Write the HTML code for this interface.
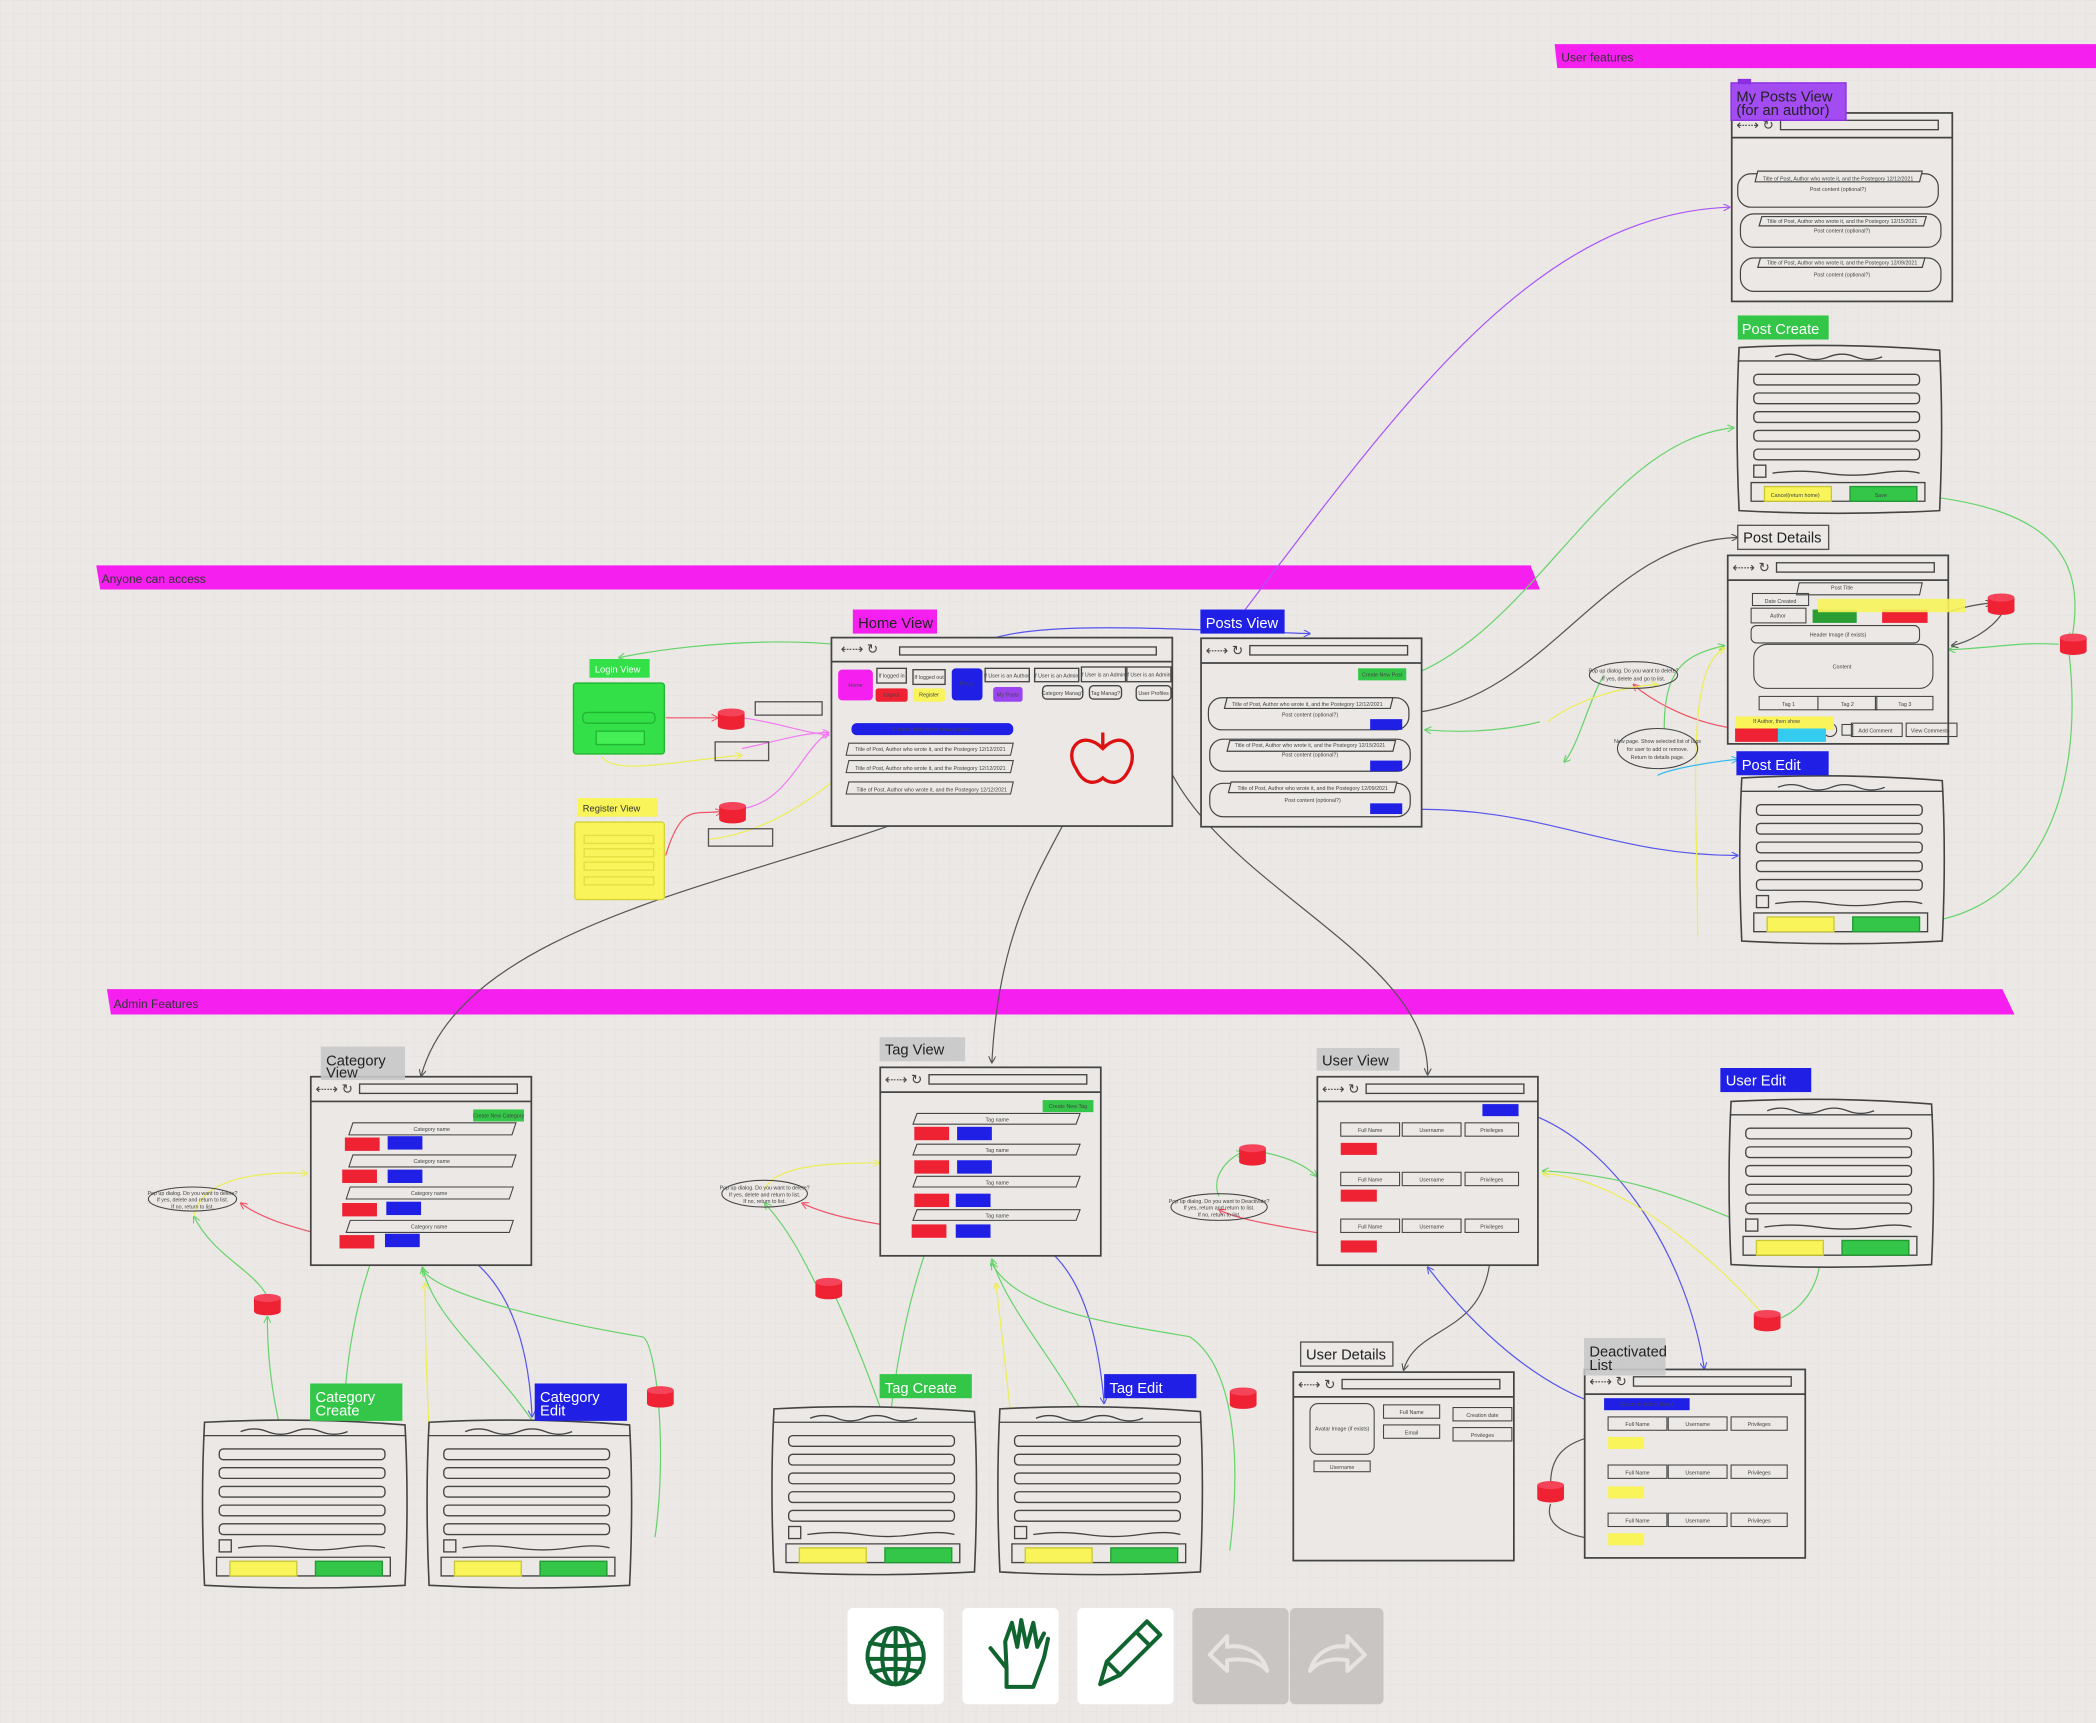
<!DOCTYPE html>
<html><head><meta charset="utf-8"><style>
html,body{margin:0;padding:0;background:#ebe8e5;}
svg{display:block;font-family:"Liberation Sans",sans-serif;}
.t{font-size:4px;fill:#444;text-anchor:middle}
.lb{font-size:11px;fill:#222}
.lbw{font-size:11px;fill:#fff}
</style></head><body>
<svg width="2096" height="1723" viewBox="0 0 1568 1289" preserveAspectRatio="none" xmlns="http://www.w3.org/2000/svg">
<defs>
<pattern id="g" width="10" height="10" patternUnits="userSpaceOnUse"><path d="M10 0H0V10" fill="none" stroke="#e2dfdb" stroke-width="0.6"/></pattern>
<symbol id="br" viewBox="0 0 166 142" width="166" height="142" overflow="visible">
<rect x="0.5" y="0.5" width="165" height="141" fill="#ebe8e5" stroke="#444" stroke-width="1.3"/>
<line x1="0" y1="19" x2="166" y2="19" stroke="#444" stroke-width="1.3"/>
<text x="4" y="13" font-size="10" fill="#444">⇠⇢ ↻</text>
<rect x="37" y="6" width="118" height="7" fill="none" stroke="#444"/>
</symbol>
<symbol id="fm" viewBox="0 0 156 128" width="156" height="128" overflow="visible">
<path d="M3 2 Q78 -2 153 4 Q156 60 153 124 Q78 128 3 124 Q0 60 3 2Z" fill="#ebe8e5" stroke="#444" stroke-width="1.2"/>
<line x1="2" y1="12" x2="154" y2="12" stroke="#444"/>
<path d="M30 9 q10 -4 20 0 t20 0 t20 0 t20 0" fill="none" stroke="#444"/>
<rect x="14" y="22" width="124" height="8" rx="3" fill="none" stroke="#444"/>
<rect x="14" y="36" width="124" height="8" rx="3" fill="none" stroke="#444"/>
<rect x="14" y="50" width="124" height="8" rx="3" fill="none" stroke="#444"/>
<rect x="14" y="64" width="124" height="8" rx="3" fill="none" stroke="#444"/>
<rect x="14" y="78" width="124" height="8" rx="3" fill="none" stroke="#444"/>
<rect x="14" y="90" width="9" height="9" fill="none" stroke="#444"/>
<path d="M28 96 q20 -3 40 0 t40 0 t30 0" fill="none" stroke="#444"/>
<path d="M12 103 h130 v14 h-130z" fill="none" stroke="#444"/>
<rect x="22" y="106" width="50" height="11" fill="#f8f45a" stroke="#cbc835"/>
<rect x="86" y="106" width="50" height="11" fill="#33c648" stroke="#229933"/>
</symbol>
<symbol id="db" viewBox="0 0 20 16" width="20" height="16" overflow="visible">
<path d="M0 3 v10 a10 3 0 0 0 20 0 v-10z" fill="#ee2233"/><ellipse cx="10" cy="3" rx="10" ry="3" fill="#f5445a"/>
</symbol>
<marker id="a" viewBox="0 0 10 10" refX="9" refY="5" markerWidth="6" markerHeight="6" orient="auto"><path d="M0 0L10 5L0 10" fill="none" stroke="context-stroke" stroke-width="1.5"/></marker>
</defs>
<rect width="1568" height="1289" fill="#ebe8e5"/>
<rect width="1568" height="1289" fill="url(#g)"/>

<!-- banners -->
<path d="M1163 33 H1568 V51 H1165Z" fill="#f51ff0"/><text x="1168" y="46" font-size="9" fill="#333">User features</text>
<path d="M72 423 H1145 L1152 441 H75Z" fill="#f51ff0"/><text x="76" y="436" font-size="9" fill="#333">Anyone can access</text>
<path d="M80 740 H1498 L1507 759 H83Z" fill="#f51ff0"/><text x="85" y="754" font-size="9" fill="#333">Admin Features</text>

<!-- connectors -->
<g fill="none" stroke-width="0.9" marker-end="url(#a)">
<path d="M930 458 C1050 300 1150 160 1294 155" stroke="#a855f7"/>
<path d="M1054 506 C1150 470 1200 330 1297 320" stroke="#66d36a"/>
<path d="M1060 533 C1160 520 1200 405 1300 402" stroke="#555"/>
<path d="M1040 606 C1150 600 1200 640 1300 640" stroke="#5555ee"/>
<path d="M1152 540 C1120 548 1090 548 1066 546" stroke="#66d36a"/>
<path d="M1430 370 C1540 380 1560 420 1550 478" stroke="#66d36a"/>
<path d="M1548 490 C1560 600 1520 680 1440 690" stroke="#66d36a"/>
<path d="M1540 482 C1510 480 1490 485 1458 486" stroke="#66d36a"/>
<path d="M1497 460 C1490 470 1475 480 1460 483" stroke="#555"/>
<path d="M1440 465 C1460 455 1480 452 1490 451" stroke="#555"/>
<path d="M1298 545 C1260 540 1230 520 1222 512" stroke="#ee5566"/>
<path d="M1245 545 C1245 500 1260 490 1290 483" stroke="#66d36a"/>
<path d="M1200 505 C1190 520 1180 560 1170 570" stroke="#66d36a"/>
<path d="M1270 700 C1270 600 1260 500 1290 485" stroke="#eded55"/>
<path d="M1240 580 C1250 575 1280 570 1300 568" stroke="#33bbee"/>
<path d="M1158 540 C1170 530 1200 515 1240 512" stroke="#eded55"/>
<path d="M695 500 C640 470 520 480 463 492" stroke="#66d36a"/>
<path d="M498 537 H537" stroke="#ee5566"/>
<path d="M555 537 C580 540 600 548 620 550" stroke="#f27af2"/>
<path d="M555 560 C580 555 600 548 620 548" stroke="#f27af2"/>
<path d="M555 605 C590 600 600 560 620 548" stroke="#f27af2"/>
<path d="M498 640 C510 600 520 610 540 607" stroke="#ee5566"/>
<path d="M450 566 C460 580 500 570 555 565" stroke="#eded55"/>
<path d="M717 496 C730 460 850 470 980 474" stroke="#5555ee"/>
<path d="M530 628 C600 620 650 560 690 520" stroke="#eded55"/>
<path d="M792 520 C780 650 360 640 315 805" stroke="#555"/>
<path d="M826 520 C820 620 750 640 742 795" stroke="#555"/>
<path d="M862 520 C860 650 1070 700 1068 804" stroke="#555"/>
<path d="M350 835 C300 880 240 960 260 1170" stroke="#66d36a"/>
<path d="M240 1170 C220 1100 200 1060 200 985" stroke="#66d36a"/>
<path d="M200 970 C190 950 160 940 145 910" stroke="#66d36a"/>
<path d="M145 910 C150 880 200 876 230 878" stroke="#eded55"/>
<path d="M255 928 C230 920 200 915 180 900" stroke="#ee5566"/>
<path d="M310 928 C370 930 395 990 398 1060" stroke="#5555ee"/>
<path d="M435 1172 C430 1050 330 1010 316 948" stroke="#66d36a"/>
<path d="M330 1170 C320 1100 318 1000 318 960" stroke="#eded55"/>
<path d="M490 1150 C500 1080 490 1000 480 1000 C420 990 330 970 316 950" stroke="#66d36a"/>
<path d="M780 828 C700 850 660 1000 660 1170" stroke="#66d36a"/>
<path d="M690 1170 C680 1100 640 1000 620 960" stroke="#66d36a"/>
<path d="M610 960 C600 940 590 920 572 900" stroke="#66d36a"/>
<path d="M572 890 C580 870 630 870 658 870" stroke="#eded55"/>
<path d="M685 920 C650 915 620 910 600 900" stroke="#ee5566"/>
<path d="M740 920 C800 920 820 980 826 1050" stroke="#5555ee"/>
<path d="M850 1170 C830 1050 760 1000 742 942" stroke="#66d36a"/>
<path d="M770 1170 C760 1100 750 1000 745 960" stroke="#eded55"/>
<path d="M920 1160 C930 1080 920 1020 890 1000 C830 990 760 980 742 945" stroke="#66d36a"/>
<path d="M1140 832 C1200 850 1260 930 1275 1024" stroke="#5555ee"/>
<path d="M1350 930 C1300 920 1250 880 1154 876" stroke="#66d36a"/>
<path d="M1320 985 C1300 960 1220 880 1154 878" stroke="#eded55"/>
<path d="M1362 940 C1360 970 1340 985 1326 988" stroke="#66d36a"/>
<path d="M1026 930 C980 920 930 915 912 905" stroke="#ee5566"/>
<path d="M912 895 C905 880 920 865 930 862" stroke="#66d36a"/>
<path d="M945 862 C960 865 975 870 985 880" stroke="#66d36a"/>
<path d="M1115 940 C1110 1000 1060 990 1050 1025" stroke="#555"/>
<path d="M1210 1055 C1150 1040 1100 990 1068 948" stroke="#5555ee"/>
<path d="M1160 1125 C1155 1140 1170 1150 1200 1152" stroke="#555"/>
<path d="M1160 1110 C1160 1090 1170 1080 1190 1075" stroke="#555"/>
</g>
<path d="M660 502 C630 510 630 540 650 542 C665 540 668 530 666 520" fill="none" stroke="#ee5566" stroke-width="0.9"/>

<!-- ========== My Posts View ========== -->
<use href="#br" x="1295" y="84"/>
<g fill="none" stroke="#444" stroke-width="0.9">
<rect x="1300" y="130" width="150" height="25" rx="10"/><rect x="1302" y="160" width="150" height="25" rx="10"/><rect x="1302" y="193" width="150" height="25" rx="10"/>
<path d="M1315 128h123l-2 8h-123z" fill="#ebe8e5"/><path d="M1318 162h123l-2 7h-123z" fill="#ebe8e5"/><path d="M1317 193h123l-2 7h-123z" fill="#ebe8e5"/>
</g>
<text class="t" x="1375" y="135">Title of Post, Author who wrote it, and the Postegory   12/12/2021</text>
<text class="t" x="1375" y="143">Post content (optional?)</text>
<text class="t" x="1378" y="167">Title of Post, Author who wrote it, and the Postegory   12/15/2021</text>
<text class="t" x="1378" y="174">Post content (optional?)</text>
<text class="t" x="1378" y="198">Title of Post, Author who wrote it, and the Postegory   12/09/2021</text>
<text class="t" x="1378" y="207">Post content (optional?)</text>
<rect x="1295" y="62" width="86" height="28" fill="#a24cf2" stroke="#8a30e0"/><rect x="1300" y="59" width="10" height="4" fill="#8a30e0"/>
<text class="lb" x="1299" y="76" font-size="10">My Posts View</text><text class="lb" x="1299" y="86" font-size="10">(for an author)</text>

<!-- Post Create -->
<use href="#fm" x="1298" y="258"/>
<rect x="1300" y="236" width="68" height="18" fill="#33c648"/><text class="lbw" x="1303" y="250">Post Create</text>
<text class="t" x="1343" y="372">Cancel(return home)</text><text class="t" x="1407" y="372" fill="#fff">Save</text>

<!-- Post Details -->
<use href="#br" x="1292" y="415"/>
<rect x="1300" y="393" width="68" height="18" fill="#ebe8e5" stroke="#555"/><text class="lb" x="1304" y="406">Post Details</text>
<g fill="none" stroke="#444" stroke-width="0.8">
<path d="M1346 436h92l-2 9h-92z"/><rect x="1311" y="444" width="42" height="9"/><rect x="1310" y="455" width="41" height="11"/>
<rect x="1310" y="468" width="126" height="13" rx="4"/><rect x="1312" y="482" width="134" height="33" rx="10"/>
<rect x="1316" y="521" width="44" height="10"/><rect x="1360" y="521" width="44" height="10"/><rect x="1403" y="521" width="43" height="10"/>
<rect x="1385" y="541" width="38" height="10"/><rect x="1426" y="541" width="38" height="10"/>
<circle cx="1369" cy="546" r="5"/><rect x="1378" y="542" width="8" height="8"/>
</g>
<rect x="1356" y="456" width="33" height="10" fill="#2a9e35"/><rect x="1408" y="456" width="34" height="10" fill="#ee2233"/>
<rect x="1360" y="448" width="110" height="10" fill="#f8f45a" opacity="0.9"/>
<rect x="1298" y="536" width="74" height="10" fill="#f8f45a"/>
<rect x="1298" y="545" width="34" height="10" fill="#ee2233"/><rect x="1330" y="545" width="36" height="10" fill="#33ccee"/>
<text class="t" x="1378" y="441">Post Title</text><text class="t" x="1332" y="451">Date Created</text><text class="t" x="1330" y="462">Author</text>
<text class="t" x="1375" y="476">Header Image (if exists)</text><text class="t" x="1378" y="500">Content</text>
<text class="t" x="1338" y="528">Tag 1</text><text class="t" x="1382" y="528">Tag 2</text><text class="t" x="1425" y="528">Tag 3</text>
<text class="t" x="1329" y="541">If Author, then show</text>
<text class="t" x="1403" y="548">Add Comment</text><text class="t" x="1444" y="548">View Comments</text>
<use href="#db" x="1487" y="444"/><use href="#db" x="1541" y="474"/>
<ellipse cx="1222" cy="505" rx="33" ry="10" fill="none" stroke="#444" stroke-width="0.8"/>
<text class="t" x="1222" y="503">Pop up dialog. Do you want to delete?</text><text class="t" x="1222" y="509">If yes, delete and go to list.</text>
<ellipse cx="1240" cy="560" rx="30" ry="15" fill="none" stroke="#444" stroke-width="0.8"/>
<text class="t" x="1240" y="556">New page. Show selected list of tags</text><text class="t" x="1240" y="562">for user to add or remove.</text><text class="t" x="1240" y="568">Return to details page.</text>

<!-- Post Edit -->
<use href="#fm" x="1300" y="580"/>
<rect x="1299" y="562" width="69" height="18" fill="#1f1fe6"/><text class="lbw" x="1303" y="576">Post Edit</text>

<!-- Home View -->
<rect x="622" y="477" width="255" height="141" fill="#ebe8e5" stroke="#444" stroke-width="1.3"/>
<line x1="622" y1="495" x2="877" y2="495" stroke="#444" stroke-width="1.3"/>
<text x="629" y="489" font-size="10" fill="#444">⇠⇢ ↻</text><rect x="673" y="484" width="192" height="6" fill="none" stroke="#444"/>
<rect x="638" y="456" width="63" height="18" fill="#f51ff0"/><text class="lb" x="642" y="470">Home View</text>
<rect x="627" y="501" width="26" height="23" rx="3" fill="#f51ff0"/><text class="t" x="640" y="514">Home</text>
<rect x="656" y="500" width="22" height="11" fill="none" stroke="#444"/><text class="t" x="667" y="507">If logged in</text>
<rect x="655" y="515" width="24" height="10" rx="2" fill="#ee2233"/><text class="t" x="667" y="521" fill="#fff">Logout</text>
<rect x="683" y="501" width="24" height="11" fill="none" stroke="#444"/><text class="t" x="695" y="508">If logged out</text>
<rect x="683" y="515" width="24" height="10" rx="2" fill="#f8f45a"/><text class="t" x="695" y="521">Register</text>
<rect x="712" y="500" width="23" height="24" rx="3" fill="#1f1fe6"/><text class="t" x="723" y="513" fill="#fff">Posts</text>
<rect x="737" y="500" width="33" height="10" fill="none" stroke="#444"/><text class="t" x="753" y="507">If User is an Author</text>
<rect x="743" y="514" width="22" height="11" rx="2" fill="#9b45ee"/><text class="t" x="754" y="521">My Posts</text>
<rect x="774" y="500" width="33" height="10" fill="none" stroke="#444"/><text class="t" x="790" y="507">If User is an Admin</text>
<rect x="780" y="513" width="30" height="10" rx="3" fill="none" stroke="#444"/><text class="t" x="795" y="520">Category Manag?</text>
<rect x="809" y="499" width="33" height="11" fill="none" stroke="#444"/><text class="t" x="825" y="506">If User is an Admin</text>
<rect x="815" y="513" width="24" height="10" rx="3" fill="none" stroke="#444"/><text class="t" x="827" y="520">Tag Manag?</text>
<rect x="843" y="499" width="33" height="11" fill="none" stroke="#444"/><text class="t" x="859" y="506">If User is an Admin</text>
<rect x="850" y="513" width="26" height="11" rx="3" fill="none" stroke="#444"/><text class="t" x="863" y="520">User Profiles</text>
<rect x="637" y="541" width="121" height="9" rx="4" fill="#1f1fe6"/><text class="t" x="697" y="547" fill="#fff">If subscribed, show newest posts</text>
<g fill="none" stroke="#444" stroke-width="0.8"><path d="M635 556h123l-2 9h-123z"/><path d="M635 569h123l-2 9h-123z"/><path d="M635 585h123l-2 9h-123z"/></g>
<text class="t" x="696" y="562">Title of Post, Author who wrote it, and the Postegory   12/12/2021</text>
<text class="t" x="696" y="576">Title of Post, Author who wrote it, and the Postegory   12/12/2021</text>
<text class="t" x="697" y="592">Title of Post, Author who wrote it, and the Postegory   12/12/2021</text>
<g fill="none" stroke="#dd1111" stroke-width="2.5"><path d="M825 560 C810 545 795 560 805 575 C812 590 822 585 825 582 C828 585 838 590 845 575 C852 560 840 545 825 560Z"/><path d="M825 560 V548"/></g>

<!-- Posts View -->
<use href="#br" x="898" y="477"/>
<rect x="898" y="456" width="63" height="18" fill="#1f1fe6"/><text class="lbw" x="902" y="470">Posts View</text>
<rect x="1016" y="500" width="36" height="9" fill="#33c648"/><text class="t" x="1034" y="506" fill="#fff">Create New Post</text>
<g fill="none" stroke="#444" stroke-width="0.9">
<rect x="904" y="522" width="150" height="24" rx="10"/><rect x="905" y="553" width="150" height="24" rx="10"/><rect x="905" y="586" width="150" height="25" rx="10"/>
<path d="M918 522h124l-2 8h-124z" fill="#ebe8e5"/><path d="M920 554h124l-2 8h-124z" fill="#ebe8e5"/><path d="M921 585h124l-2 8h-124z" fill="#ebe8e5"/>
</g>
<rect x="1025" y="538" width="24" height="8" fill="#1f1fe6"/><rect x="1025" y="569" width="24" height="8" fill="#1f1fe6"/><rect x="1025" y="601" width="24" height="8" fill="#1f1fe6"/>
<text class="t" x="978" y="528">Title of Post, Author who wrote it, and the Postegory   12/12/2021</text><text class="t" x="980" y="536">Post content (optional?)</text>
<text class="t" x="980" y="559">Title of Post, Author who wrote it, and the Postegory   12/15/2021</text><text class="t" x="980" y="566">Post content (optional?)</text>
<text class="t" x="982" y="591">Title of Post, Author who wrote it, and the Postegory   12/09/2021</text><text class="t" x="982" y="600">Post content (optional?)</text>

<!-- Login / Register -->
<rect x="441" y="493" width="45" height="14" fill="#33e048"/><text x="445" y="503" font-size="7" fill="#fff">Login View</text>
<rect x="429" y="511" width="68" height="53" rx="2" fill="#33e048" stroke="#22b533"/>
<rect x="436" y="533" width="54" height="8" rx="3" fill="none" stroke="#22b533"/><rect x="446" y="547" width="36" height="10" fill="#44ee55" stroke="#22b533"/>
<use href="#db" x="537" y="530"/><rect x="565" y="525" width="50" height="10" fill="none" stroke="#555"/>
<rect x="535" y="555" width="40" height="14" fill="none" stroke="#555"/>
<rect x="432" y="597" width="60" height="14" fill="#f8f45a"/><text x="436" y="607" font-size="7" fill="#333">Register View</text>
<rect x="430" y="615" width="67" height="58" rx="2" fill="#f8f45a" stroke="#d6d23a"/>
<g stroke="#e3df40" fill="none"><rect x="437" y="625" width="52" height="6"/><rect x="437" y="635" width="52" height="6"/><rect x="437" y="645" width="52" height="6"/><rect x="437" y="656" width="52" height="6"/></g>
<use href="#db" x="538" y="600"/><rect x="530" y="620" width="48" height="13" fill="none" stroke="#555"/>

<!-- Category View -->
<use href="#br" x="232" y="805"/>
<rect x="240" y="783" width="63" height="25" fill="#c8c8c8" opacity="0.9"/><text class="lb" x="244" y="797">Category</text><text class="lb" x="244" y="806">View</text>
<rect x="354" y="830" width="38" height="9" fill="#33c648"/><text class="t" x="373" y="836" fill="#fff">Create New Category</text>
<g fill="none" stroke="#444" stroke-width="0.8"><path d="M264 840h122l-3 9h-122z"/><path d="M264 864h122l-3 9h-122z"/><path d="M262 888h122l-3 9h-122z"/><path d="M262 913h122l-3 9h-122z"/></g>
<text class="t" x="323" y="846">Category name</text><text class="t" x="323" y="870">Category name</text><text class="t" x="321" y="894">Category name</text><text class="t" x="321" y="919">Category name</text>
<g fill="#ee2233"><rect x="258" y="851" width="26" height="10"/><rect x="256" y="875" width="26" height="10"/><rect x="256" y="900" width="26" height="10"/><rect x="254" y="924" width="26" height="10"/></g>
<g fill="#1f1fe6"><rect x="290" y="850" width="26" height="10"/><rect x="290" y="875" width="26" height="10"/><rect x="289" y="899" width="26" height="10"/><rect x="288" y="923" width="26" height="10"/></g>
<ellipse cx="144" cy="897" rx="33" ry="9" fill="none" stroke="#444" stroke-width="0.8"/>
<text class="t" x="144" y="894">Pop up dialog. Do you want to delete?</text><text class="t" x="144" y="899">If yes, delete and return to list.</text><text class="t" x="144" y="904">If no, return to list.</text>
<use href="#db" x="190" y="968"/>

<!-- Category Create/Edit -->
<use href="#fm" x="150" y="1062"/><use href="#fm" x="318" y="1062"/>
<rect x="232" y="1035" width="69" height="28" fill="#33c648"/><text class="lbw" x="236" y="1049">Category</text><text class="lbw" x="236" y="1059">Create</text>
<rect x="400" y="1035" width="69" height="28" fill="#1f1fe6"/><text class="lbw" x="404" y="1049">Category</text><text class="lbw" x="404" y="1059">Edit</text>
<use href="#db" x="484" y="1037"/>

<!-- Tag View -->
<use href="#br" x="658" y="798"/>
<rect x="658" y="776" width="64" height="18" fill="#c8c8c8" opacity="0.9"/><text class="lb" x="662" y="789">Tag View</text>
<rect x="780" y="823" width="38" height="9" fill="#33c648"/><text class="t" x="799" y="829" fill="#fff">Create New Tag</text>
<g fill="none" stroke="#444" stroke-width="0.8"><path d="M686 833h122l-3 8h-122z"/><path d="M686 856h122l-3 8h-122z"/><path d="M686 880h122l-3 8h-122z"/><path d="M686 905h122l-3 8h-122z"/></g>
<text class="t" x="746" y="839">Tag name</text><text class="t" x="746" y="862">Tag name</text><text class="t" x="746" y="886">Tag name</text><text class="t" x="746" y="911">Tag name</text>
<g fill="#ee2233"><rect x="684" y="843" width="26" height="10"/><rect x="684" y="868" width="26" height="10"/><rect x="684" y="893" width="26" height="10"/><rect x="682" y="916" width="26" height="10"/></g>
<g fill="#1f1fe6"><rect x="716" y="843" width="26" height="10"/><rect x="716" y="868" width="26" height="10"/><rect x="715" y="893" width="26" height="10"/><rect x="715" y="916" width="26" height="10"/></g>
<ellipse cx="572" cy="893" rx="32" ry="10" fill="none" stroke="#444" stroke-width="0.8"/>
<text class="t" x="572" y="890">Pop up dialog. Do you want to delete?</text><text class="t" x="572" y="895">If yes, delete and return to list.</text><text class="t" x="572" y="900">If no, return to list.</text>
<use href="#db" x="610" y="956"/>

<use href="#fm" x="576" y="1052"/><use href="#fm" x="745" y="1052"/>
<rect x="658" y="1028" width="69" height="18" fill="#33c648"/><text class="lbw" x="662" y="1042">Tag Create</text>
<rect x="826" y="1028" width="69" height="18" fill="#1f1fe6"/><text class="lbw" x="830" y="1042">Tag Edit</text>
<use href="#db" x="920" y="1038"/>

<!-- User View -->
<use href="#br" x="985" y="805"/>
<rect x="985" y="784" width="62" height="17" fill="#c8c8c8" opacity="0.9"/><text class="lb" x="989" y="797">User View</text>
<rect x="1109" y="826" width="27" height="9" fill="#1f1fe6"/>
<g fill="none" stroke="#444" stroke-width="0.8">
<rect x="1003" y="840" width="44" height="10"/><rect x="1049" y="840" width="44" height="10"/><rect x="1096" y="840" width="40" height="10"/>
<rect x="1003" y="877" width="44" height="10"/><rect x="1049" y="877" width="44" height="10"/><rect x="1096" y="877" width="40" height="10"/>
<rect x="1003" y="912" width="44" height="10"/><rect x="1049" y="912" width="44" height="10"/><rect x="1096" y="912" width="40" height="10"/>
</g>
<g fill="#ee2233"><rect x="1003" y="855" width="27" height="9"/><rect x="1003" y="890" width="27" height="9"/><rect x="1003" y="928" width="27" height="9"/></g>
<text class="t" x="1025" y="847">Full Name</text><text class="t" x="1071" y="847">Username</text><text class="t" x="1116" y="847">Privileges</text>
<text class="t" x="1025" y="884">Full Name</text><text class="t" x="1071" y="884">Username</text><text class="t" x="1116" y="884">Privileges</text>
<text class="t" x="1025" y="919">Full Name</text><text class="t" x="1071" y="919">Username</text><text class="t" x="1116" y="919">Privileges</text>
<ellipse cx="912" cy="903" rx="36" ry="10" fill="none" stroke="#444" stroke-width="0.8"/>
<text class="t" x="912" y="900">Pop up dialog. Do you want to Deactivate?</text><text class="t" x="912" y="905">If yes, return and return to list.</text><text class="t" x="912" y="910">If no, return to list.</text>
<use href="#db" x="927" y="856"/>

<!-- User Edit -->
<use href="#fm" x="1292" y="822"/>
<rect x="1287" y="799" width="68" height="18" fill="#1f1fe6"/><text class="lbw" x="1291" y="812">User Edit</text>
<use href="#db" x="1312" y="980"/>

<!-- User Details -->
<use href="#br" x="967" y="1026"/>
<rect x="973" y="1004" width="69" height="18" fill="#ebe8e5" stroke="#555"/><text class="lb" x="977" y="1017">User Details</text>
<g fill="none" stroke="#444" stroke-width="0.8"><rect x="980" y="1050" width="48" height="38" rx="6"/><rect x="1035" y="1051" width="42" height="10"/><rect x="1035" y="1066" width="42" height="10"/><rect x="1087" y="1053" width="44" height="10"/><rect x="1087" y="1068" width="44" height="10"/><rect x="983" y="1093" width="42" height="8"/></g>
<text class="t" x="1004" y="1070">Avatar Image (if exists)</text><text class="t" x="1056" y="1058">Full Name</text><text class="t" x="1056" y="1073">Email</text><text class="t" x="1109" y="1060">Creation date</text><text class="t" x="1109" y="1075">Privileges</text><text class="t" x="1004" y="1099">Username</text>

<!-- Deactivated List -->
<use href="#br" x="1185" y="1024"/>
<rect x="1185" y="1001" width="61" height="28" fill="#c8c8c8" opacity="0.9"/><text class="lb" x="1189" y="1015">Deactivated</text><text class="lb" x="1189" y="1025">List</text>
<rect x="1200" y="1046" width="64" height="9" fill="#1f1fe6"/><text class="t" x="1232" y="1052" fill="#fff">Return to Active Users</text>
<g fill="none" stroke="#444" stroke-width="0.8">
<rect x="1203" y="1060" width="44" height="10"/><rect x="1248" y="1060" width="44" height="10"/><rect x="1295" y="1060" width="42" height="10"/>
<rect x="1203" y="1096" width="44" height="10"/><rect x="1248" y="1096" width="44" height="10"/><rect x="1295" y="1096" width="42" height="10"/>
<rect x="1203" y="1132" width="44" height="10"/><rect x="1248" y="1132" width="44" height="10"/><rect x="1295" y="1132" width="42" height="10"/>
</g>
<g fill="#f8f45a"><rect x="1203" y="1075" width="27" height="9"/><rect x="1203" y="1112" width="27" height="9"/><rect x="1203" y="1147" width="27" height="9"/></g>
<text class="t" x="1225" y="1067">Full Name</text><text class="t" x="1270" y="1067">Username</text><text class="t" x="1316" y="1067">Privileges</text>
<text class="t" x="1225" y="1103">Full Name</text><text class="t" x="1270" y="1103">Username</text><text class="t" x="1316" y="1103">Privileges</text>
<text class="t" x="1225" y="1139">Full Name</text><text class="t" x="1270" y="1139">Username</text><text class="t" x="1316" y="1139">Privileges</text>
<use href="#db" x="1150" y="1108"/>

<!-- toolbar -->
<rect x="634" y="1203" width="72" height="72" rx="4" fill="#fff"/>
<rect x="720" y="1203" width="72" height="72" rx="4" fill="#fff"/>
<rect x="806" y="1203" width="72" height="72" rx="4" fill="#fff"/>
<rect x="892" y="1203" width="72" height="72" rx="4" fill="#c9c5c2"/>
<rect x="965" y="1203" width="70" height="72" rx="4" fill="#c9c5c2"/>
<g fill="none" stroke="#0f6430" stroke-width="3" stroke-linejoin="round" stroke-linecap="round">
<circle cx="670" cy="1239" r="21"/><ellipse cx="670" cy="1239" rx="10" ry="21"/><line x1="670" y1="1218" x2="670" y2="1260"/><path d="M651 1229 Q670 1234 689 1229 M649 1241 H691 M652 1251 Q670 1246 688 1251"/>
<path d="M741 1233 L753 1248 V1262 H773 L781 1240 L784 1226 M753 1248 L752 1228 L757 1214 L761 1232 M761 1232 L764 1212 L768 1232 M768 1232 L773 1214 L776 1232 M776 1232 L781 1222"/>
<path d="M823 1260 L828 1243 L858 1213 L868 1223 L838 1253 Z M828 1243 L838 1253 M850 1221 L860 1231"/>
</g>
<g fill="none" stroke="#e6e3e1" stroke-width="3" stroke-linejoin="round">
<path d="M948 1250 C944 1236 932 1230 918 1232 L918 1224 L905 1238 L918 1250 L918 1242 C932 1240 942 1243 948 1250Z"/>
<path d="M980 1250 C984 1236 996 1230 1008 1232 L1008 1224 L1021 1238 L1008 1250 L1008 1242 C996 1240 986 1243 980 1250Z"/>
</g>
</svg>
</body></html>
